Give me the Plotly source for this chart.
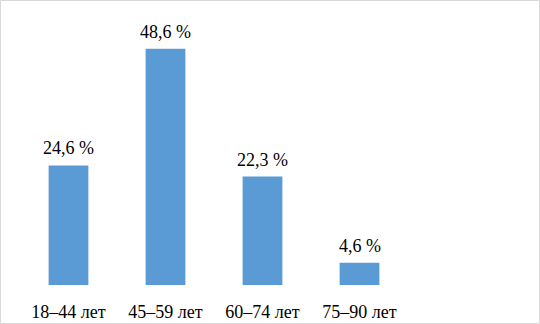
import plotly.graph_objects as go

categories = ["18–44 лет", "45–59 лет", "60–74 лет", "75–90 лет"]
values = [24.6, 48.6, 22.3, 4.6]
labels = ["24,6 %", "48,6 %", "22,3 %", "4,6 %"]

W, H = 540, 324
ml, mr, mt, mb = 20, 35, 10, 39
pw, ph = W - ml - mr, H - mt - mb
FONT = "Times New Roman"

xs = list(range(len(categories)))

fig = go.Figure(go.Bar(
    x=xs,
    y=values,
    marker=dict(color="#5b9bd5", line=dict(width=0)),
    width=0.41,
    hoverinfo="skip",
))

annotations = [
    dict(x=x, y=v, text=t, xref="x", yref="y", showarrow=False,
         yanchor="bottom", yshift=5,
         font=dict(family=FONT, size=18, color="black"))
    for x, v, t in zip(xs, values, labels)
]

fig.update_layout(
    width=W, height=H,
    font=dict(family=FONT),
    margin=dict(l=ml, r=mr, t=mt, b=mb, autoexpand=False),
    paper_bgcolor="white", plot_bgcolor="white",
    showlegend=False,
    annotations=annotations,
    xaxis=dict(
        tickmode="array",
        tickvals=xs,
        ticktext=categories,
        range=[-0.5, 4.5],
        showgrid=False, zeroline=False, showline=False,
        ticks="", ticklabelstandoff=14, automargin=False,
        tickfont=dict(family=FONT, size=18, color="black"),
    ),
    yaxis=dict(range=[0, ph / 4.86], visible=False, automargin=False),
    shapes=[dict(
        type="rect", xref="paper", yref="paper",
        x0=(-ml + 0.5) / pw, x1=(pw + mr - 0.5) / pw,
        y0=(-mb + 0.5) / ph, y1=(ph + mt - 0.5) / ph,
        line=dict(color="#d9d9d9", width=1),
    )],
)

fig.write_html(
    "out.html",
    config={"displayModeBar": False},
    post_script="document.body.style.margin='0';document.body.style.overflow='hidden';",
)
